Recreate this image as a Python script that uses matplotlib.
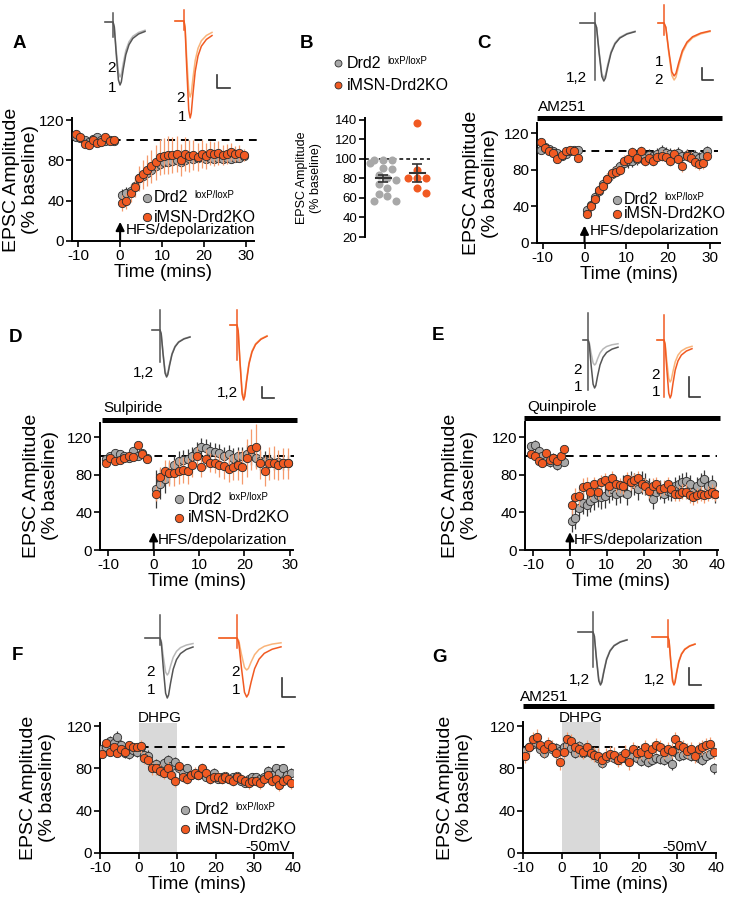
import numpy as np
import matplotlib.pyplot as plt

plt.rcParams['font.family'] = ['Liberation Sans', 'DejaVu Sans']
plt.rcParams['axes.unicode_minus'] = False

W, H = 729, 900
GRAY = '#a8a8a8'
GRAY_ERR = '#3a3a3a'
ORANGE = '#f15a22'
ORANGE_ERR = '#f59a6c'
EDGE = '#2b2b2b'

# ---- time grids (minutes) ----
t_pre = np.arange(-10.5, -1, 1.0)
t_A = np.concatenate([t_pre, np.arange(0.5, 30, 1.0)])
t_E = np.concatenate([t_pre, np.arange(0.5, 40, 1.0)])
t_F = np.arange(-9.5, 40, 1.0)

# ---- A: HFS LTD ----
A_gray = [103, 102, 100, 98, 101, 103, 100, 99, 100, 99,
          46, 48, 50, 55, 62, 64, 67, 70, 74, 76,
          78, 78, 79, 80, 78, 80, 82, 81, 82, 83,
          81, 82, 81, 82, 81, 82, 81, 82, 82, 84]
A_gray_err = [3, 3, 3, 3, 3, 3, 3, 2, 2, 2,
              6, 6, 6, 6, 6, 5, 5, 5, 5, 5,
              5, 5, 5, 5, 5, 5, 5, 5, 5, 5,
              4, 4, 4, 4, 4, 4, 4, 4, 4, 4]
A_ko = [106, 103, 96, 95, 100, 97, 98, 103, 99, 100,
        38, 40, 48, 54, 62, 66, 70, 74, 78, 83,
        84, 85, 85, 86, 80, 86, 84, 85, 83, 86,
        84, 87, 86, 87, 85, 86, 88, 86, 87, 85]
A_ko_err = [4, 4, 4, 4, 4, 4, 4, 4, 3, 3,
            8, 8, 9, 10, 12, 14, 15, 16, 17, 18,
            18, 19, 18, 18, 16, 17, 16, 15, 14, 14,
            13, 12, 12, 12, 10, 10, 9, 8, 8, 6]

# ---- B: individual cells ----
B_gray = [99, 99, 99, 96, 91, 90, 84, 80, 78, 74, 70, 64, 62, 57, 57]
B_ko = [137, 89, 80, 80, 80, 70, 65]

# ---- C: AM251 ----
C_gray = [102, 105, 103, 100, 98, 95, 97, 100, 102, 101,
          36, 42, 50, 57, 64, 70, 75, 80, 84, 87,
          89, 90, 92, 94, 95, 96, 95, 97, 100, 98,
          97, 96, 98, 95, 96, 94, 95, 93, 95, 100]
C_gray_err = [3] * 10 + [6] * 9 + [7] * 16 + [6] * 5
C_ko = [110, 104, 100, 98, 92, 96, 100, 102, 100, 93,
        32, 40, 48, 58, 62, 70, 76, 78, 80, 90,
        92, 99, 93, 100, 90, 93, 90, 94, 95, 94,
        90, 97, 92, 84, 95, 93, 88, 86, 87, 95]
C_ko_err = [4] * 10 + [5] * 3 + [6] * 27

# ---- D: sulpiride ----
D_gray = [97, 100, 103, 102, 100, 98, 105, 100, 103, 98,
          65, 70, 75, 82, 90, 95, 96, 97, 100, 105,
          109, 108, 105, 104, 103, 100, 102, 98, 100, 100,
          102, 100, 98, 95, 95, 95, 93, 94, 93, 93]
D_gray_err = [4] * 10 + [20, 16, 14, 12] + [10] * 21 + [8] * 5
D_ko = [92, 98, 95, 96, 98, 100, 99, 112, 102, 97,
        60, 78, 84, 82, 82, 84, 85, 84, 90, 100,
        88, 97, 93, 92, 90, 89, 86, 88, 90, 88,
        98, 107, 110, 93, 84, 92, 93, 90, 92, 92]
D_ko_err = [3] * 10 + [8, 10, 12, 14, 14, 14, 14, 14, 12, 10,
                       10, 10, 10, 10, 12, 14, 14, 14, 16, 18,
                       20, 22, 24, 18, 16, 18, 18, 16, 16, 16]

# ---- E: quinpirole ----
E_gray = [110, 112, 105, 100, 95, 93, 98, 90, 98, 94,
          31, 34, 45, 50, 48, 52, 55, 58, 56, 57,
          62, 65, 60, 62, 68, 60, 72, 70, 65, 72,
          70, 65, 54, 62, 64, 60, 63, 62, 68, 70,
          72, 73, 70, 62, 68, 72, 75, 68, 70, 60]
E_gray_err = [5] * 10 + [12] * 22 + [10] * 18
E_ko = [102, 100, 95, 92, 103, 96, 98, 95, 100, 107,
        48, 56, 57, 67, 68, 62, 70, 62, 72, 74,
        68, 76, 70, 69, 68, 75, 72, 74, 76, 70,
        68, 63, 68, 70, 65, 66, 70, 65, 60, 60,
        62, 62, 58, 56, 58, 60, 58, 60, 62, 60]
E_ko_err = [4] * 10 + [10] * 5 + [8] * 35

# ---- F: DHPG ----
F_gray = [98, 100, 106, 104, 110, 102, 95, 94, 97, 96,
          100, 93, 92, 82, 84, 80, 85, 88, 82, 86,
          80, 76, 80, 74, 75, 74, 78, 72, 72, 76,
          70, 72, 73, 70, 72, 73, 68, 66, 70, 72,
          72, 70, 72, 78, 74, 80, 76, 80, 74, 76]
F_gray_err = [5] * 20 + [4] * 30
F_ko = [94, 104, 96, 100, 95, 98, 96, 102, 100, 100,
        101, 90, 88, 80, 80, 78, 76, 80, 74, 68,
        82, 72, 70, 74, 76, 74, 80, 76, 70, 72,
        72, 70, 72, 70, 68, 72, 70, 68, 66, 68,
        68, 66, 70, 74, 68, 70, 64, 68, 70, 66]
F_ko_err = [4] * 10 + [6] * 10 + [5] * 30

# ---- G: AM251 + DHPG ----
G_gray = [97, 100, 103, 104, 98, 95, 100, 98, 99, 97,
          100, 102, 99, 95, 101, 95, 97, 96, 93, 90,
          85, 90, 92, 90, 88, 92, 90, 88, 92, 90,
          87, 90, 86, 88, 90, 89, 88, 90, 84, 96,
          92, 93, 94, 92, 93, 90, 88, 92, 94, 80]
G_gray_err = [5] * 50
G_ko = [92, 100, 108, 110, 102, 98, 103, 100, 95, 86,
        96, 108, 106, 100, 98, 96, 100, 95, 93, 92,
        88, 92, 94, 93, 88, 90, 95, 86, 98, 95,
        96, 100, 94, 98, 102, 100, 96, 98, 97, 108,
        102, 100, 97, 98, 92, 98, 100, 102, 103, 96]
G_ko_err = [7] * 50

# normalised EPSC waveform (after stimulus artifact), 1 = peak
SHAPE_X = [0.00, 0.04, 0.10, 0.17, 0.22, 0.26, 0.32, 0.40, 0.50, 0.62, 0.80, 1.00]
SHAPE_Y = [0.00, 0.08, 0.50, 0.92, 1.00, 0.95, 0.75, 0.52, 0.36, 0.26, 0.19, 0.15]

fig = plt.figure(figsize=(W / 100, H / 100), dpi=100)


def add_ax(l, t, r, b):
    return fig.add_axes([l / W, 1 - b / H, (r - l) / W, (b - t) / H])


def style(ax, xlim, ylim, xticks, yticks):
    ax.set_xlim(*xlim)
    ax.set_ylim(*ylim)
    ax.set_xticks(xticks)
    ax.set_yticks(yticks)
    for s in ['top', 'right']:
        ax.spines[s].set_visible(False)
    for s in ['left', 'bottom']:
        ax.spines[s].set_linewidth(1.4)
    ax.tick_params(labelsize=11, length=4, width=1.2, pad=1.5)
    ax.patch.set_alpha(0)


def time_panel(box, xlim, ylim, t, g, ge, k, ke, xticks, dash):
    ax = add_ax(*box)
    ax.errorbar(t, g, yerr=ge, fmt='none', ecolor=GRAY_ERR, elinewidth=0.9, capsize=0, zorder=2)
    ax.plot(t, g, 'o', ms=6, mfc=GRAY, mec=EDGE, mew=0.6, zorder=3)
    ax.errorbar(t, k, yerr=ke, fmt='none', ecolor=ORANGE_ERR, elinewidth=0.9, capsize=0, zorder=4)
    ax.plot(t, k, 'o', ms=6, mfc=ORANGE, mec=EDGE, mew=0.6, zorder=5)
    ax.plot(dash, [100, 100], color='k', ls=(0, (4, 3)), lw=1.4, zorder=1, clip_on=False)
    style(ax, xlim, ylim, xticks, [0, 40, 80, 120])
    ax.set_xlabel('Time (mins)', fontsize=13.5, labelpad=1)
    return ax


def hfs_arrow(ax):
    ax.annotate('', xy=(0, 19), xytext=(0, 0),
                arrowprops=dict(arrowstyle='-|>,head_width=0.25,head_length=0.5',
                                lw=1.5, color='k', shrinkA=0, shrinkB=0))


axA = time_panel((72, 118, 254, 241), (-11.5, 32), (0, 122), t_A, A_gray, A_gray_err,
                 A_ko, A_ko_err, [-10, 0, 10, 20, 30], [-11.5, 32.8])
hfs_arrow(axA)
axC = time_panel((537, 123, 720, 243), (-11.4, 32.5), (0, 131), t_A, C_gray, C_gray_err,
                 C_ko, C_ko_err, [-10, 0, 10, 20, 30], [-11.4, 32])
hfs_arrow(axC)
axD = time_panel((100, 423, 293, 550), (-11.8, 30.7), (0, 135), t_A, D_gray, D_gray_err,
                 D_ko, D_ko_err, [-10, 0, 10, 20, 30], [-11.8, 31])
hfs_arrow(axD)
axE = time_panel((525, 422, 718, 550), (-12.2, 40.2), (0, 136), t_E, E_gray, E_gray_err,
                 E_ko, E_ko_err, [-10, 0, 10, 20, 30, 40], [-12.2, 40])
hfs_arrow(axE)
axF = time_panel((100, 723, 293, 853), (-10, 40), (0, 123), t_F, F_gray, F_gray_err,
                 F_ko, F_ko_err, [-10, 0, 10, 20, 30, 40], [-10, 38.5])
axF.axvspan(0, 10, color='#d9d9d9', lw=0, zorder=0)
axG = time_panel((523, 722, 716, 853), (-10, 40), (0, 124), t_F, G_gray, G_gray_err,
                 G_ko, G_ko_err, [-10, 0, 10, 20, 30, 40], [-10, 38.5])
axG.axvspan(0, 10, color='#d9d9d9', lw=0, zorder=0)

# ---- B scatter ----
axB = add_ax(365, 118, 430, 237)


def swarm(vals, center, px_x, px_y, diam):
    placed, xs = [], np.zeros(len(vals))
    for i in np.argsort(vals)[::-1]:
        y = vals[i] * px_y
        for kk in [0, 1, -1, 2, -2, 3, -3]:
            dx = kk * diam * 0.55
            if all((dx - a) ** 2 + (y - b) ** 2 >= 0.9 * diam ** 2 for a, b in placed):
                break
        placed.append((dx, y))
        xs[i] = center + dx / px_x
    return xs


for vals, cx, col in [(B_gray, 1, GRAY), (B_ko, 2, ORANGE)]:
    v = np.array(vals, float)
    xs = swarm(v, cx, 34, 0.975, 8)
    axB.plot(xs, v, 'o', ms=5.8, mfc=col, mec='none', zorder=3, clip_on=False)
    m, se = v.mean(), v.std(ddof=1) / np.sqrt(len(v))
    axB.plot([cx - 0.22, cx + 0.22], [m, m], color='#333333', lw=1.5, zorder=4)
    axB.errorbar([cx], [m], yerr=[se], fmt='none', ecolor='#333333', elinewidth=1.2,
                 capsize=3.5, capthick=1.2, zorder=4)
axB.plot([0.47, 2.38], [100, 100], color='k', ls=(0, (2.5, 2)), lw=1.1, zorder=1)
style(axB, (0.47, 2.38), (20, 142), [], [20, 40, 60, 80, 100, 120, 140])
axB.spines['bottom'].set_visible(False)
axB.tick_params(axis='y', labelsize=9.5)

# ---- overlay in pixel coordinates ----
ov = fig.add_axes([0, 0, 1, 1], zorder=10)
ov.set_xlim(0, W)
ov.set_ylim(H, 0)
ov.axis('off')

for lab, x, y in [('A', 19, 43), ('B', 307, 43), ('C', 484, 43), ('D', 16, 337),
                  ('E', 438, 335), ('F', 17, 655), ('G', 440, 658)]:
    ov.text(x, y, lab, fontsize=13.5, fontweight='bold', ha='center', va='center')

for x, y in [(21, 180), (481, 183), (41, 486), (460, 486), (38, 788), (455, 788)]:
    ov.text(x, y, 'EPSC Amplitude\n(% baseline)', rotation=90, ha='center', va='center',
            fontsize=14, linespacing=1.15)
ov.text(309, 178, 'EPSC Amplitude\n(% baseline)', rotation=90, ha='center', va='center',
        fontsize=9, linespacing=1.15)


def legend(x, y1, y2, tx, ms=6, fs=11.5):
    ov.plot([x], [y1], 'o', ms=ms, mfc=GRAY, mec=EDGE, mew=0.6)
    ov.plot([x], [y2], 'o', ms=ms, mfc=ORANGE, mec=EDGE, mew=0.6)
    t = ov.text(tx, y1, 'Drd2', fontsize=fs, va='center', ha='left')
    ov.annotate('loxP/loxP', xy=(1, 1), xycoords=t, xytext=(4, 0), textcoords='offset points',
                ha='left', va='top', fontsize=fs * 0.6)
    ov.text(tx, y2, 'iMSN-Drd2KO', fontsize=fs, va='center', ha='left')


legend(147, 198, 217, 154)
legend(338, 63, 85, 347, ms=5, fs=11.5)
legend(617, 200, 214, 624)
legend(179, 499, 518, 188)
legend(185, 810, 829, 195)

for x, y in [(126, 230), (590, 231), (158, 540), (574, 540)]:
    ov.text(x, y, 'HFS/depolarization', fontsize=11, ha='left', va='center')

# drug bars
for label, tx, ty, x0, x1, by in [('AM251', 538, 107, 537, 722, 118),
                                   ('Sulpiride', 103, 408, 102, 297, 420),
                                   ('Quinpirole', 527, 407, 524, 720, 418),
                                   ('AM251', 520, 697, 523, 714, 706)]:
    ov.text(tx, ty, label, fontsize=11, ha='left', va='center')
    ov.plot([x0, x1], [by, by], color='k', lw=3.6, solid_capstyle='butt')

for x, y in [(138, 718), (559, 718)]:
    ov.text(x, y, 'DHPG', fontsize=11, ha='left', va='center')
for x, y in [(290, 847), (707, 847)]:
    ov.text(x, y, '-50mV', fontsize=11, ha='right', va='center')

# example traces: x0, artifact x, x1, baseline, artifact top/bottom, trough 1, trough 2
traces = [
    ('g', 105, 113, 145, 22, 13, 37, 85, 77),
    ('o', 175, 184, 212, 21, 10, 30, 118, 97),
    ('g', 580, 595, 635, 23, 13, 80, 81, 78),
    ('o', 658, 664, 710, 23, 5, 35, 76, 80),
    ('g', 152, 160, 190, 330, 310, 362, 377, 375),
    ('o', 230, 237, 267, 325, 310, 360, 400, 397),
    ('g', 583, 588, 618, 340, 313, 390, 388, 365),
    ('o', 657, 664, 692, 340, 315, 397, 398, 382),
    ('g', 145, 160, 193, 638, 615, 645, 698, 675),
    ('o', 219, 237, 281, 638, 615, 648, 697, 670),
    ('g', 578, 593, 627, 632, 612, 667, 685, 683),
    ('o', 652, 668, 695, 637, 620, 647, 685, 683),
]
colors = {'g': ('#555555', '#b8b8b8'), 'o': ('#f15a22', '#f9b47a')}
for kind, x0, xa, x1, base, at, ab, tr1, tr2 in traces:
    c1, c2 = colors[kind]
    for tr, c in [(tr2, c2), (tr1, c1)]:
        xs = [x0, xa] + [xa + f * (x1 - xa) for f in SHAPE_X]
        ys = [base, base] + [base + f * (tr - base) for f in SHAPE_Y]
        ov.plot(xs, ys, color=c, lw=1.1)
    ov.plot([xa, xa], [at, ab], color=c1, lw=1.1)

trace_labels = [('2', 116, 68), ('1', 116, 88), ('2', 185, 98), ('1', 186, 117),
                ('1,2', 587, 78), ('1', 663, 62), ('2', 663, 80),
                ('1,2', 154, 373), ('1,2', 238, 393),
                ('2', 582, 370), ('1', 582, 387), ('2', 660, 375), ('1', 660, 392),
                ('2', 155, 672), ('1', 155, 690), ('2', 240, 672), ('1', 240, 690),
                ('1,2', 590, 680), ('1,2', 665, 680)]
for s, x, y in trace_labels:
    ov.text(x, y, s, fontsize=11, ha='right', va='center')

for x, y0, y1, x1 in [(217, 75, 88, 230), (702, 68, 80, 713), (262, 387, 398, 274),
                      (689, 377, 397, 700), (282, 678, 697, 295), (689, 668, 685, 701)]:
    ov.plot([x, x, x1], [y0, y1, y1], color='#333333', lw=1.2)

fig.savefig('out.png', dpi=100)
